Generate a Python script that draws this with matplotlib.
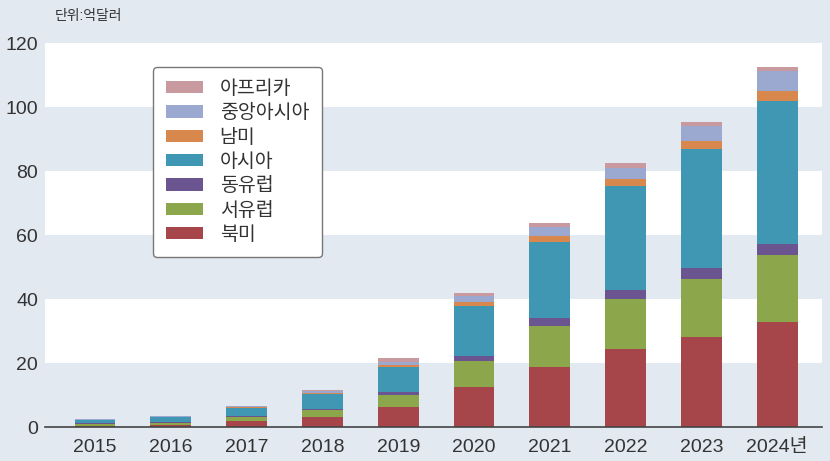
import matplotlib.pyplot as plt
import numpy as np
from matplotlib.patches import Patch

plt.rcParams['font.family'] = ['Liberation Sans', 'Noto Sans CJK KR']

## Data (unit: 100 million USD) ##
years = ['2015', '2016', '2017', '2018', '2019',
         '2020', '2021', '2022', '2023', '2024년']
north_america = [0.5, 0.9, 2.1, 3.4, 6.5, 12.5, 18.9, 24.6, 28.3, 33.0]
west_europe = [0.6, 0.6, 1.3, 2.1, 3.7, 8.4, 12.8, 15.6, 18.2, 20.8]
east_europe = [0.2, 0.2, 0.2, 0.2, 1.0, 1.4, 2.4, 2.9, 3.4, 3.4]
asia = [1.0, 1.5, 2.6, 4.8, 7.8, 15.6, 24.0, 32.3, 37.2, 44.8]
south_america = [0.1, 0.1, 0.15, 0.2, 0.5, 1.3, 1.7, 2.1, 2.4, 3.1]
central_asia = [0.3, 0.2, 0.25, 0.7, 1.1, 1.8, 2.9, 3.6, 4.7, 6.2]
africa = [0.1, 0.1, 0.1, 0.3, 1.0, 1.1, 1.3, 1.6, 1.3, 1.4]

series = [
    ('북미', north_america, '#a6464a'),
    ('서유럽', west_europe, '#8ca64c'),
    ('동유럽', east_europe, '#6a5590'),
    ('아시아', asia, '#3f97b3'),
    ('남미', south_america, '#d8884c'),
    ('중앙아시아', central_asia, '#9ba9d1'),
    ('아프리카', africa, '#c89a9f'),
]

bg = '#e3e9f1'
text_col = '#333333'

fig = plt.figure(figsize=[8.3, 4.61], dpi=100, facecolor=bg)
ax = fig.add_axes([0.0542, 0.0727, 0.9361, 0.8330])
ax.set_facecolor(bg)

## Alternating bands ##
for lo in range(20, 120, 40):
    ax.axhspan(lo, lo + 20, color='white', lw=0, zorder=0)

x = np.arange(len(years))
bottom = np.zeros(len(years))
for name, vals, col in series:
    ax.bar(x, vals, width=0.54, bottom=bottom, color=col, lw=0, zorder=2)
    bottom += np.array(vals)

ax.set_xlim(-0.66, 9.59)
ax.set_ylim(0, 120)
ax.set_yticks(range(0, 121, 20))
ax.set_xticks(x)
ax.set_xticklabels(years)
for side in ['top', 'right', 'left']:
    ax.spines[side].set_visible(False)
ax.spines['bottom'].set_color('#444444')
ax.spines['bottom'].set_linewidth(1.2)
ax.spines['bottom'].set_zorder(3)
ax.tick_params(axis='both', length=0, labelsize=14, colors=text_col)
ax.tick_params(axis='y', pad=5)
ax.tick_params(axis='x', pad=8)

fig.text(0.066, 0.965, '단위:억달러', fontsize=10, color=text_col,
         ha='left', va='center')

handles = [Patch(facecolor=col, edgecolor='none', label=name)
           for name, vals, col in reversed(series)]
leg = ax.legend(handles=handles, loc='upper left',
                bbox_to_anchor=(153 / 830, 1 - 67 / 461),
                bbox_transform=fig.transFigure, borderaxespad=0,
                frameon=True, fancybox=True, prop={'size': 14},
                handlelength=1.9, handleheight=0.6, handletextpad=0.85,
                labelspacing=0.33, borderpad=0.68, labelcolor=text_col)
leg.get_frame().set_edgecolor('#777777')
leg.get_frame().set_facecolor('white')
leg.get_frame().set_alpha(1)
leg.get_frame().set_linewidth(1.0)

plt.savefig('out.png', dpi=100, facecolor=bg)
